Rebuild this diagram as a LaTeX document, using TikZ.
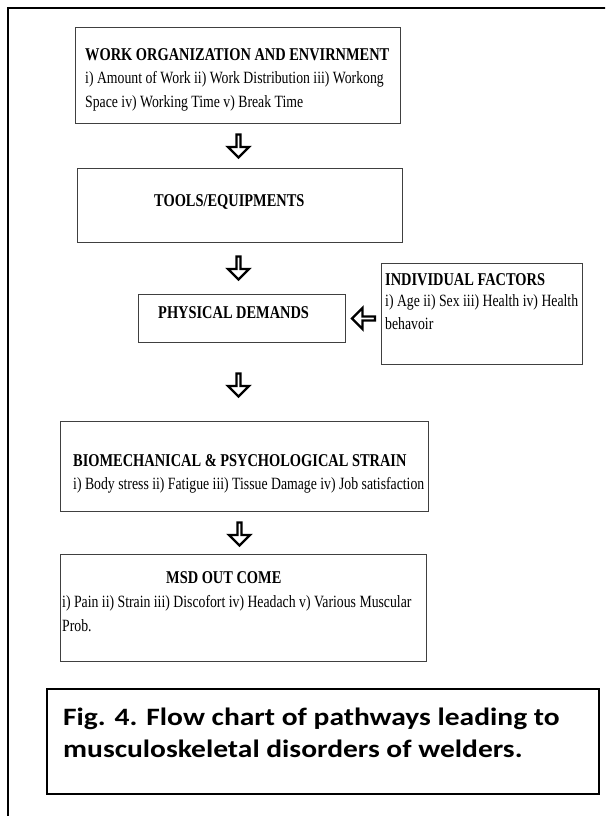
\documentclass[tikz,border=0pt]{standalone}
\usepackage{fontspec}
\setmainfont{Liberation Serif}[FakeStretch=0.8]
\newfontfamily\capfont{Carlito}[FakeStretch=1.18]
\usetikzlibrary{shapes.arrows}
\tikzset{
  box/.style={draw=black!75, line width=1.1pt, inner sep=0pt, anchor=north west},
  capbox/.style={draw=black, line width=2pt, inner sep=0pt, anchor=north west},
  txt/.style={anchor=base west, inner sep=0pt, font=\fontsize{17.2}{24}\selectfont},
  ttl/.style={anchor=base west, inner sep=0pt, font=\fontsize{18}{24}\selectfont\bfseries},
  captxt/.style={anchor=base west, inner sep=0pt, font=\capfont\bfseries\fontsize{25}{32}\selectfont},
  barrow/.style={shape=single arrow, draw=black, fill=white, line width=2.4pt, inner sep=0pt,
    minimum height=23pt, minimum width=21pt, single arrow head extend=5pt, single arrow head indent=0pt},
  frame/.style={draw=black, line width=2pt}
}
\begin{document}
\begin{tikzpicture}[x=1pt, y=-1pt]
\useasboundingbox (0,0) rectangle (605,816);
\clip (0,0) rectangle (605,816);
% outer frame (only left and top edges visible)
\coordinate (fa) at (8,830);
\coordinate (fb) at (8,8);
\coordinate (fc) at (620,8);
\draw[frame] (fa) -- (fb) -- (fc);

% Box 1
\node[box, minimum width=325pt, minimum height=96pt] (b1) at (75,27) {};
\node[ttl] (t1a) at (85,60.5) {WORK ORGANIZATION AND ENVIRNMENT};
\node[txt] (t1b) at (85,84) {i) Amount of Work ii) Work Distribution iii) Workong};
\node[txt] (t1c) at (85,107) {Space iv) Working Time v) Break Time};

% Box 2
\node[box, minimum width=325pt, minimum height=74pt] (b2) at (77,168) {};
\node[ttl] (t2) at (154,206) {TOOLS/EQUIPMENTS};

% Physical demands
\node[box, minimum width=207pt, minimum height=48pt] (b3) at (138,294) {};
\node[ttl] (t3) at (158,318) {PHYSICAL DEMANDS};

% Individual factors
\node[box, minimum width=201pt, minimum height=101pt] (b4) at (381,263) {};
\node[ttl] (t4a) at (385,285.5) {INDIVIDUAL FACTORS};
\node[txt] (t4b) at (385,306) {i) Age ii) Sex iii) Health iv) Health};
\node[txt] (t4c) at (385,329) {behavoir};

% Biomechanical
\node[box, minimum width=368pt, minimum height=90pt] (b5) at (60,421) {};
\node[ttl] (t5a) at (73,466) {BIOMECHANICAL \& PSYCHOLOGICAL STRAIN};
\node[txt] (t5b) at (73,489) {i) Body stress ii) Fatigue iii) Tissue Damage iv) Job satisfaction};

% MSD outcome
\node[box, minimum width=366pt, minimum height=107pt] (b6) at (60,554) {};
\node[ttl] (t6a) at (166,583) {MSD OUT COME};
\node[txt] (t6b) at (62,607) {i) Pain ii) Strain iii) Discofort iv) Headach v) Various Muscular};
\node[txt] (t6c) at (62,631) {Prob.};

% Caption
\node[capbox, minimum width=552pt, minimum height=105pt] (cap) at (46,688) {};
\node[captxt] (c1) at (63,725) {Fig. 4. Flow chart of pathways leading to};
\node[captxt] (c2) at (63,757) {musculoskeletal disorders of welders.};

% Block arrows
\node[barrow, rotate=-90] (a1) at (238.5,145) {};
\node[barrow, rotate=-90] (a2) at (238.5,267) {};
\node[barrow, rotate=-90] (a3) at (238.5,384) {};
\node[barrow, rotate=-90] (a4) at (239.5,533) {};
\node[barrow, rotate=180] (a5) at (364.5,318.5) {};
\end{tikzpicture}
\end{document}
